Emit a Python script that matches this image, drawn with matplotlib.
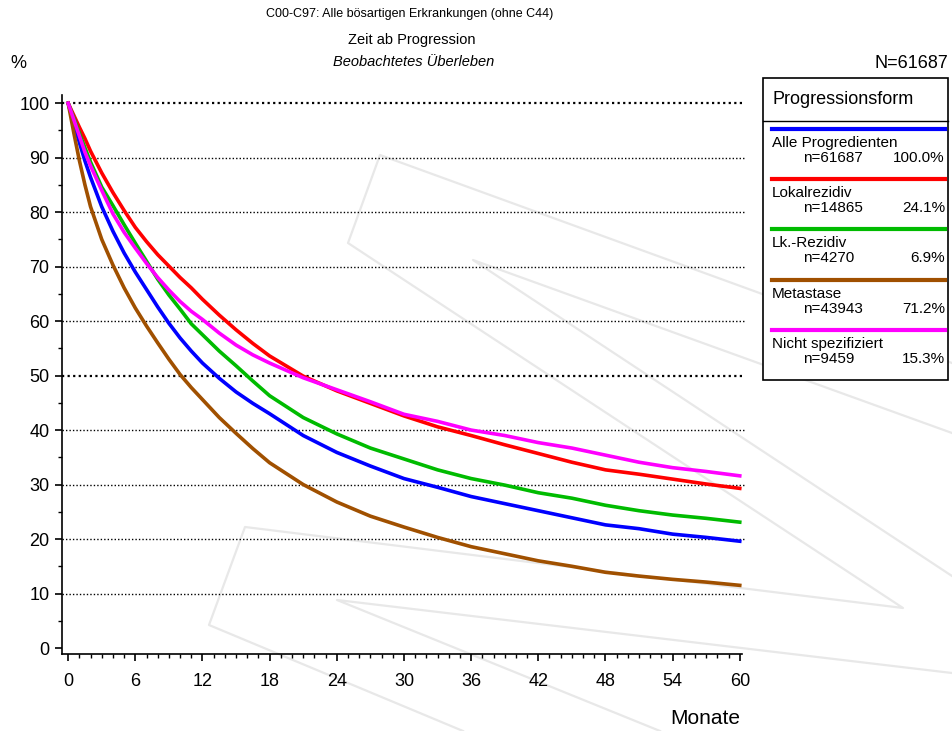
import numpy as np
import matplotlib.pyplot as plt
from matplotlib.lines import Line2D
from matplotlib.patches import Rectangle

plt.rcParams['font.family'] = ['Liberation Sans', 'DejaVu Sans']

# Survival data, months since progression
months = [0, 0.5, 1, 1.5, 2, 3, 4, 5, 6, 7, 8, 9, 10, 11, 12, 13.5, 15, 16.5, 18, 21, 24,
          27, 30, 33, 36, 39, 42, 45, 48, 51, 54, 57, 60]
alle = [100, 96.3, 92.8, 89.4, 86.4, 81, 76.5, 72.5, 69, 65.8, 62.6, 59.6, 56.9, 54.5, 52.3,
        49.5, 47.0, 44.9, 43.0, 39.0, 35.9,
        33.4, 31.1, 29.5, 27.8, 26.5, 25.2, 23.9, 22.6, 21.9, 20.9, 20.3, 19.6]
lokal = [100, 97.8, 95.6, 93.5, 91.2, 87.2, 83.6, 80.3, 77.2, 74.6, 72.2, 70.1, 68.0, 66.1, 64.0,
         61.1, 58.4, 55.9, 53.6, 49.9, 47.2,
         44.9, 42.6, 40.6, 39.0, 37.3, 35.7, 34.1, 32.7, 31.9, 31.0, 30.1, 29.3]
lk = [100, 97.3, 94.5, 91.8, 89.2, 84.6, 81.2, 77.7, 74.3, 71, 67.7, 64.8, 62.2, 59.5, 57.5,
      54.5, 51.8, 49.0, 46.3, 42.3, 39.3,
      36.7, 34.7, 32.7, 31.1, 29.9, 28.5, 27.5, 26.2, 25.2, 24.4, 23.8, 23.1]
meta = [100, 94.6, 89.5, 85, 81, 75.0, 70.3, 66.1, 62.4, 59.1, 56, 53, 50.2, 47.8, 45.6,
        42.3, 39.4, 36.6, 34.0, 30.0, 26.8,
        24.2, 22.2, 20.3, 18.6, 17.3, 16.0, 15.0, 13.9, 13.2, 12.6, 12.1, 11.5]
nicht = [100, 97, 94, 91, 88.5, 84, 79.7, 76.3, 73.4, 70.6, 68, 65.7, 63.6, 61.8, 60.3,
         57.8, 55.6, 53.8, 52.3, 49.6, 47.4,
         45.2, 42.9, 41.6, 40.0, 39.0, 37.7, 36.7, 35.4, 34.1, 33.1, 32.4, 31.6]

names = ['Alle Progredienten', 'Lokalrezidiv', 'Lk.-Rezidiv', 'Metastase', 'Nicht spezifiziert']
counts = ['n=61687', 'n=14865', 'n=4270', 'n=43943', 'n=9459']
shares = ['100.0%', '24.1%', '6.9%', '71.2%', '15.3%']
colors = ['#0000ff', '#ff0000', '#00bb00', '#a05000', '#ff00ff']
series = [alle, lokal, lk, meta, nicht]

W, H = 952, 731
fig = plt.figure(figsize=(W / 100, H / 100), dpi=100)


def px(x, y):
    # pixel position (from top-left) -> figure fraction
    return x / W, 1 - y / H


# faint watermark in the background
wm = [
    [(952, 363), (380, 155), (348, 243), (903, 608), (245, 527), (209, 625), (463, 731)],
    [(952, 433), (473, 260), (952, 576)],
    [(952, 673), (337, 600), (660, 731)],
]
for poly in wm:
    xs = [p[0] / W for p in poly]
    ys = [1 - p[1] / H for p in poly]
    fig.add_artist(Line2D(xs, ys, color='#e8e8e8', lw=1.6, zorder=0))

ax = fig.add_axes([62 / W, 1 - 654 / H, 680 / W, 559 / H])
ax.set_facecolor('none')
ax.set_xlim(-0.55, 60.2)
ax.set_ylim(-1.1, 101.5)

for v in range(10, 101, 10):
    ax.hlines(v, -0.55, 60.4, colors='black', linestyles=(0, (1, 1.5)),
              lw=1.6 if v in (50, 100) else 1.0, zorder=1, clip_on=False)

for s, c in zip(series, colors):
    ax.plot(months, s, color=c, lw=2.6, zorder=3, solid_joinstyle='round')

ax.spines['top'].set_visible(False)
ax.spines['right'].set_visible(False)
ax.spines['left'].set_linewidth(1.2)
ax.spines['bottom'].set_linewidth(1.2)

ax.set_xticks(range(0, 61, 6))
ax.set_xticks(range(0, 61, 1), minor=True)
ax.set_yticks(range(0, 101, 10))
ax.set_yticks(range(5, 100, 10), minor=True)
ax.tick_params(axis='x', which='major', length=5, width=1.2, pad=9, labelsize=13)
ax.tick_params(axis='x', which='minor', length=3, width=1.0)
ax.tick_params(axis='y', which='major', length=5, width=1.2, pad=4, labelsize=13)
ax.tick_params(axis='y', which='minor', length=3, width=1.0)

# titles and labels
fig.text(*px(410, 14), 'C00-C97: Alle bösartigen Erkrankungen (ohne C44)', ha='center', va='center', fontsize=9)
fig.text(*px(412, 40), 'Zeit ab Progression', ha='center', va='center', fontsize=10.5)
fig.text(*px(414, 62), 'Beobachtetes Überleben', ha='center', va='center', fontsize=10.5, style='italic')
fig.text(*px(10, 63), '%', ha='left', va='center', fontsize=13)
fig.text(*px(948, 63), 'N=61687', ha='right', va='center', fontsize=13)
fig.text(*px(740, 718), 'Monate', ha='right', va='center', fontsize=15)

# legend box
fig.add_artist(Rectangle(px(763, 380), 185 / W, 302 / H, facecolor='white',
                         edgecolor='black', lw=1.2, zorder=5))
fig.add_artist(Line2D([763 / W, 948 / W], [1 - 121 / H] * 2, color='black', lw=1.0, zorder=6))
fig.text(*px(772, 99), 'Progressionsform', ha='left', va='center', fontsize=13, zorder=6)
for i, (nm, cnt, sh, c) in enumerate(zip(names, counts, shares, colors)):
    y0 = 129 + i * 50.2
    fig.add_artist(Line2D([772 / W, 945 / W], [1 - y0 / H] * 2, color=c, lw=3, zorder=6))
    fig.text(*px(772, y0 + 14), nm, ha='left', va='center', fontsize=11, zorder=6)
    fig.text(*px(803, y0 + 29), cnt, ha='left', va='center', fontsize=11, zorder=6)
    fig.text(*px(945, y0 + 29), sh, ha='right', va='center', fontsize=11, zorder=6)

plt.savefig('out.png', dpi=100)
